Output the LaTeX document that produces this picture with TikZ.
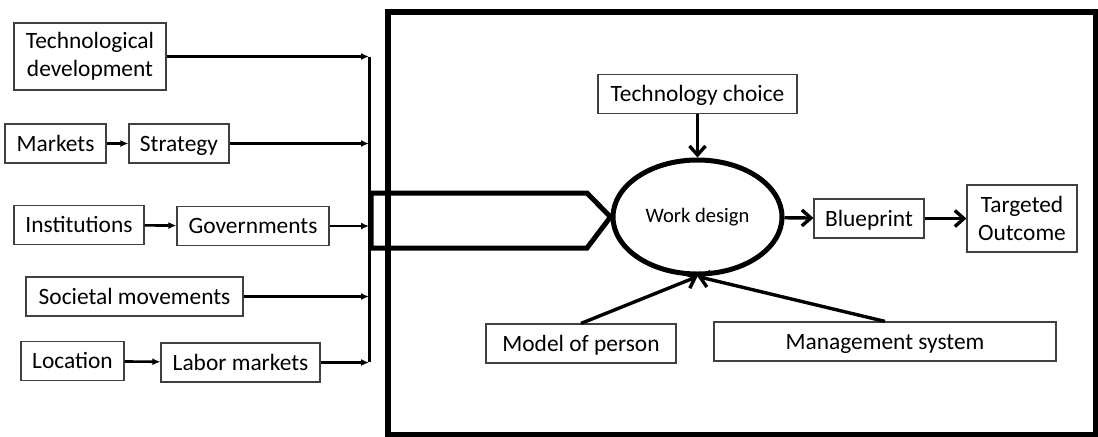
\documentclass[tikz,border=0pt]{standalone}
\usepackage{fontspec}
\setmainfont{Carlito}
\usetikzlibrary{arrows.meta}
\usetikzlibrary{shapes.geometric}
\tikzset{%
  >={Latex[width=3.5pt,length=4pt]},
  % Specifications for style of nodes:
         box/.style = {rectangle, draw=black!75, line width=0.6pt,
                       inner sep=0pt, minimum height=19.5pt, text centered,
                       text height=9.5pt, text depth=2pt},
     tallbox/.style = {box, minimum height=33.5pt, text height={}, text depth={}},
      design/.style = {ellipse, draw=black, line width=2.5pt,
                       minimum width=84.5pt, minimum height=57pt, inner sep=0pt,
                       font=\fontsize{10.3}{12}\selectfont},
  % Specifications for style of lines:
        feed/.style = {->, line width=1.3pt},
        push/.style = {-{Straight Barb[length=4.5pt,width=8pt]}, line width=1.7pt},
    bigframe/.style = {line width=3pt},
      funnel/.style = {line width=2.5pt, line join=miter},
}

\begin{document}
\begin{tikzpicture}[x=0.5pt, y=-0.5pt,
    every node/.style={font=\fontsize{11.7}{14}\selectfont}, align=center]
  \useasboundingbox (0,0) rectangle (1098,436);
  % Specification of nodes (position, etc.)
  \node (techdev) [tallbox, minimum width=76pt] at (90,56.5) {Technological\\development};
  \node (markets) [box, minimum width=50.5pt] at (55.5,143.5) {Markets};
  \node (strategy) [box, minimum width=50pt] at (179,143.5) {Strategy};
  \node (institutions) [box, minimum width=65pt] at (79,225) {Institutions};
  \node (governments) [box, minimum width=76pt] at (253,226) {Governments};
  \node (societal) [box, minimum width=108.5pt] at (134.5,296.5) {Societal movements};
  \node (location) [box, minimum width=51.5pt] at (72.5,361) {Location};
  \node (labor) [box, minimum width=79.5pt] at (240.5,362.5) {Labor markets};

  \node (workdesign) [design] at (697.5,217) {Work design};
  \node (techchoice) [box, minimum width=99.5pt] at (697.5,94) {Technology choice};
  \node (blueprint) [box, minimum width=55pt] at (869,218.5) {Blueprint};
  \node (outcome) [tallbox, minimum width=55pt] at (1022,218.5) {Targeted\\Outcome};
  \node (person) [box, minimum width=95pt] at (581,343.5) {Model of person};
  \node (mgmt) [box, minimum width=171pt] at (885,341.5) {Management system};

  \coordinate (bustop) at (369,57);
  \coordinate (busbot) at (369,362);

  % Specification of lines between nodes specified above
  \draw[bigframe] (387.5,11.5) rectangle (1095.5,434.5);
  \draw[line width=1.5pt] (bustop) -- (busbot);
  \draw[funnel] (371,193) -- (587,193) -- (workdesign.west) -- (587,248) -- (371,248) -- cycle;

  \draw[feed] (techdev.east) -- (techdev.east -| bustop);
  \draw[feed] (markets) -- (strategy);
  \draw[feed] (strategy) -- (strategy -| bustop);
  \draw[feed] (institutions) -- (governments);
  \draw[feed] (governments) -- (governments -| bustop);
  \draw[feed] (societal) -- (societal -| bustop);
  \draw[feed] (location) -- (labor);
  \draw[feed] (labor) -- (labor -| bustop);

  \draw[push] (techchoice) -- (workdesign);
  \draw[push] (workdesign) -- (blueprint);
  \draw[push] (blueprint) -- (outcome);
  \draw[push] (person.north) -- (workdesign.south);
  \draw[push] (mgmt.north) -- (workdesign.south);
\end{tikzpicture}
\end{document}
